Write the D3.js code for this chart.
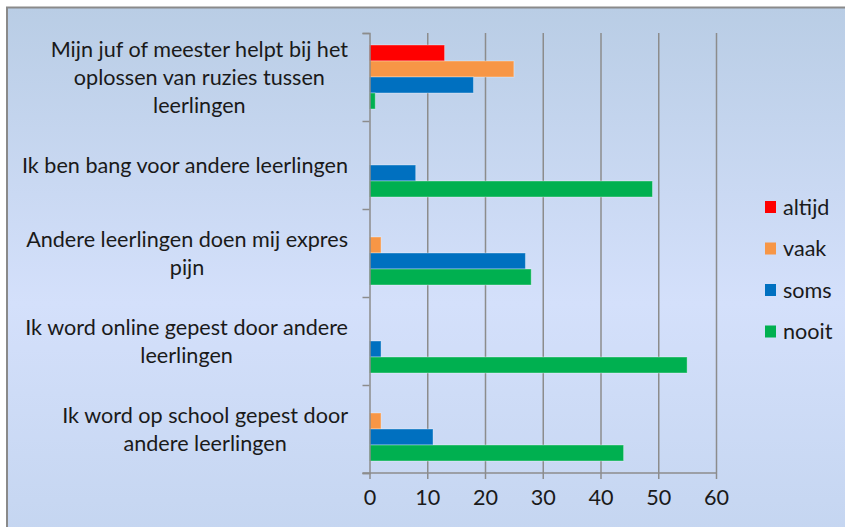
<!DOCTYPE html>
<html>
<head>
<meta charset="utf-8">
<script src="https://cdn.jsdelivr.net/npm/d3@7"></script>
<style>
  body { margin: 0; background: #fff; }
  text { font-family: Lato, "Open Sans", sans-serif; fill: #1a1a1a; }
</style>
</head>
<body>
<div id="container"></div>
<script>
// category labels, already split into lines as in the picture
let categories = [
    ["Mijn juf of meester helpt bij het", "oplossen van ruzies tussen", "leerlingen"],
    ["Ik ben bang voor andere leerlingen"],
    ["Andere leerlingen doen mij expres", "pijn"],
    ["Ik word online gepest door andere", "leerlingen"],
    ["Ik word op school gepest door", "andere leerlingen"]
];
let seriesNames = ["altijd", "vaak", "soms", "nooit"];
let seriesColors = ["#ff0000", "#f79646", "#0070c0", "#00b050"];

let altijd = [13, 0, 0, 0, 0];
let vaak   = [25, 0, 2, 0, 2];
let soms   = [18, 8, 27, 2, 11];
let nooit  = [1, 49, 28, 55, 44];

let xTicks = [0, 10, 20, 30, 40, 50, 60];

let width = 845, height = 527;
let plot = {left: 369.5, right: 716, top: 33, bottom: 473};
let gridColor = "#8c8c8c";
let fontSize = 21.6;

let svg = d3.select("#container").append("svg")
    .attr("width", width)
    .attr("height", height);

// background gradient
let grad = svg.append("defs").append("linearGradient")
    .attr("id", "bg")
    .attr("x1", "0%").attr("y1", "0%")
    .attr("x2", "0%").attr("y2", "100%");
grad.append("stop").attr("offset", "0%").attr("stop-color", "#b9cde5");
grad.append("stop").attr("offset", "55%").attr("stop-color", "#d4e0fb");
grad.append("stop").attr("offset", "100%").attr("stop-color", "#c4d5f0");

svg.append("rect")
    .attr("x", 7).attr("y", 7.5)
    .attr("width", width + 10).attr("height", height + 10)
    .style("fill", "url(#bg)")
    .style("stroke", "#8a8a8a")
    .style("stroke-width", "2px");

let x = d3.scaleLinear()
    .domain([0, 60])
    .range([plot.left, plot.right]);

let y = d3.scaleBand()
    .domain(d3.range(categories.length))
    .range([plot.top, plot.bottom]);

let yInner = d3.scaleBand()
    .domain(seriesNames)
    .range([0, y.bandwidth()])
    .paddingInner(0)
    .paddingOuter(0.75);

// boundaries between categories for the left ticks
let yEdge = d3.scaleLinear()
    .domain([0, categories.length])
    .range([plot.top, plot.bottom]);

// vertical gridlines
let grid = svg.append("g")
    .attr("transform", "translate(0," + plot.bottom + ")")
    .call(d3.axisBottom(x).tickValues(xTicks.slice(1)).tickSize(-(plot.bottom - plot.top)).tickFormat(""));
grid.select(".domain").remove();
grid.selectAll("line").style("stroke", gridColor).style("stroke-width", "1.5px");

// bars
let values = [altijd, vaak, soms, nooit];
let barData = [];
categories.forEach(function(c, i) {
    seriesNames.forEach(function(s, j) {
        barData.push({cat: i, series: s, color: seriesColors[j], value: values[j][i]});
    });
});

svg.append("g").selectAll("rect")
    .data(barData.filter(function(d) { return d.value > 0; }))
    .enter().append("rect")
    .attr("x", x(0))
    .attr("y", function(d) { return y(d.cat) + yInner(d.series); })
    .attr("width", function(d) { return x(d.value) - x(0); })
    .attr("height", yInner.bandwidth())
    .style("fill", function(d) { return d.color; })
    .style("stroke", "rgba(255,255,255,0.35)")
    .style("stroke-width", "1px");

// x axis
let xAxis = svg.append("g")
    .attr("transform", "translate(0," + plot.bottom + ")")
    .call(d3.axisBottom(x).tickValues(xTicks).tickSize(6).tickPadding(11));
xAxis.select(".domain").attr("d", "M" + (plot.left - 7) + ",0H" + plot.right);
xAxis.selectAll("path, line").style("stroke", gridColor).style("stroke-width", "1.5px");
xAxis.selectAll("text")
    .style("font-size", fontSize + "px")
    .style("font-family", "Lato, 'Open Sans', sans-serif")
    .style("fill", "#1a1a1a");

// y axis
let yAxis = svg.append("g")
    .attr("transform", "translate(" + plot.left + ",0)")
    .call(d3.axisLeft(yEdge).tickValues(d3.range(categories.length + 1)).tickSize(7).tickFormat(""));
yAxis.selectAll("path, line").style("stroke", gridColor).style("stroke-width", "1.5px");

// category labels: lines centered on each other, block right aligned
let labelRight = 348;
let lineHeight = 28;
let labels = svg.append("g");
categories.forEach(function(lines, i) {
    let g = labels.append("g");
    let texts = g.selectAll("text")
        .data(lines)
        .enter().append("text")
        .attr("text-anchor", "middle")
        .attr("dy", "0.35em")
        .style("font-size", fontSize + "px")
        .attr("y", function(d, k) { return y(i) + y.bandwidth() / 2 + (k - (lines.length - 1) / 2) * lineHeight; })
        .text(function(d) { return d; });
    let maxW = d3.max(texts.nodes(), function(n) { return n.getComputedTextLength(); });
    texts.attr("x", labelRight - maxW / 2);
});

// legend
let legend = svg.append("g")
    .attr("transform", "translate(765,207)");
let item = legend.selectAll("g")
    .data(seriesNames)
    .enter().append("g")
    .attr("transform", function(d, i) { return "translate(0," + (i * 41.5) + ")"; });
item.append("rect")
    .attr("y", -6)
    .attr("width", 11)
    .attr("height", 12)
    .style("fill", function(d, i) { return seriesColors[i]; });
item.append("text")
    .attr("x", 18)
    .attr("dy", "0.35em")
    .style("font-size", fontSize + "px")
    .text(function(d) { return d; });
</script>
</body>
</html>
